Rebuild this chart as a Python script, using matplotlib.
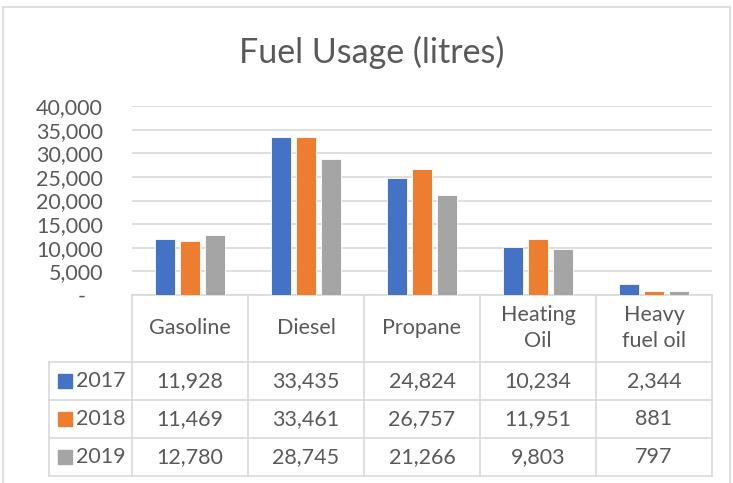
import numpy as np
import matplotlib
matplotlib.use("Agg")
import matplotlib.pyplot as plt
from matplotlib.ticker import FuncFormatter

plt.rcParams['font.family'] = ['Lato', 'DejaVu Sans']

categories = ["Gasoline", "Diesel", "Propane", "Heating\nOil", "Heavy\nfuel oil"]
years = ["2017", "2018", "2019"]
usage_2017 = [11928, 33435, 24824, 10234, 2344]
usage_2018 = [11469, 33461, 26757, 11951, 881]
usage_2019 = [12780, 28745, 21266, 9803, 797]
colors = ["#4472C4", "#ED7D31", "#A5A5A5"]

series = [usage_2017, usage_2018, usage_2019]
txt = "#595959"
grid = "#D9D9D9"
fs = 15.5

W, H = 733, 483
fig = plt.figure(figsize=(W / 100, H / 100), dpi=100)

# chart border
fig.patches.append(plt.Rectangle((3 / W, -0.1), (730 - 3) / W, 1.1 - 7 / H,
                                 transform=fig.transFigure, fill=False,
                                 edgecolor=grid, lw=1.2))

# main plot area (pixels: x 132-712, y 106-295)
ax = fig.add_axes([132 / W, 1 - 295 / H, 580 / W, 189 / H])
x = np.arange(len(categories))
bw = 0.172
offs = [-0.216, 0, 0.216]
for vals, c, o in zip(series, colors, offs):
    ax.bar(x + o, vals, width=bw, color=c, edgecolor="white", linewidth=0.6, zorder=3)

ax.set_xlim(-0.5, len(categories) - 0.5)
ax.set_ylim(0, 40000)
ax.set_yticks(np.arange(0, 40001, 5000))
ax.yaxis.set_major_formatter(FuncFormatter(lambda v, p: "-   " if v == 0 else f"{int(v):,}"))
ax.grid(axis="y", color=grid, lw=1.2, zorder=0)
ax.set_xticks([])
for s in ["top", "right", "left"]:
    ax.spines[s].set_visible(False)
ax.spines["bottom"].set_color(grid)
ax.spines["bottom"].set_linewidth(1.2)
ax.tick_params(axis="y", length=0, pad=21, labelsize=fs, labelcolor=txt)

fig.text(372 / W, 1 - 52 / H, "Fuel Usage (litres)", ha="center", va="center",
         fontsize=24.5, color=txt)

# data table (pixels: x 49-712, y 295-476)
leg_w = 83 / 116
tab = fig.add_axes([49 / W, 1 - 476 / H, (712 - 49) / W, (476 - 295) / H])
tab.set_xlim(-0.5 - leg_w, len(categories) - 0.5)
tab.set_ylim(181, 0)
tab.axis("off")
rows = [0, 67, 105, 143, 181]
lk = dict(color=grid, lw=1.2, clip_on=False)
for b in np.arange(len(categories) + 1) - 0.5:
    tab.plot([b, b], [0, 181], **lk)
tab.plot([-0.5 - leg_w] * 2, [67, 181], **lk)
for r in rows[1:]:
    tab.plot([-0.5 - leg_w, len(categories) - 0.5], [r, r], **lk)

for i, name in enumerate(categories):
    tab.text(i, 33, name, ha="center", va="center", fontsize=fs, color=txt,
             linespacing=1.4)
for j, (yr, vals, c) in enumerate(zip(years, series, colors)):
    yc = (rows[j + 1] + rows[j + 2]) / 2
    tab.add_patch(plt.Rectangle((-0.5 - leg_w + 9 / 116, yc - 7), 14 / 116, 14,
                                color=c, clip_on=False))
    tab.text(-0.5 - leg_w + 27 / 116, yc, yr, ha="left", va="center",
             fontsize=fs, color=txt)
    for i, v in enumerate(vals):
        tab.text(i, yc, f"{v:,}", ha="center", va="center", fontsize=fs, color=txt)

fig.savefig("out.png", dpi=100)
